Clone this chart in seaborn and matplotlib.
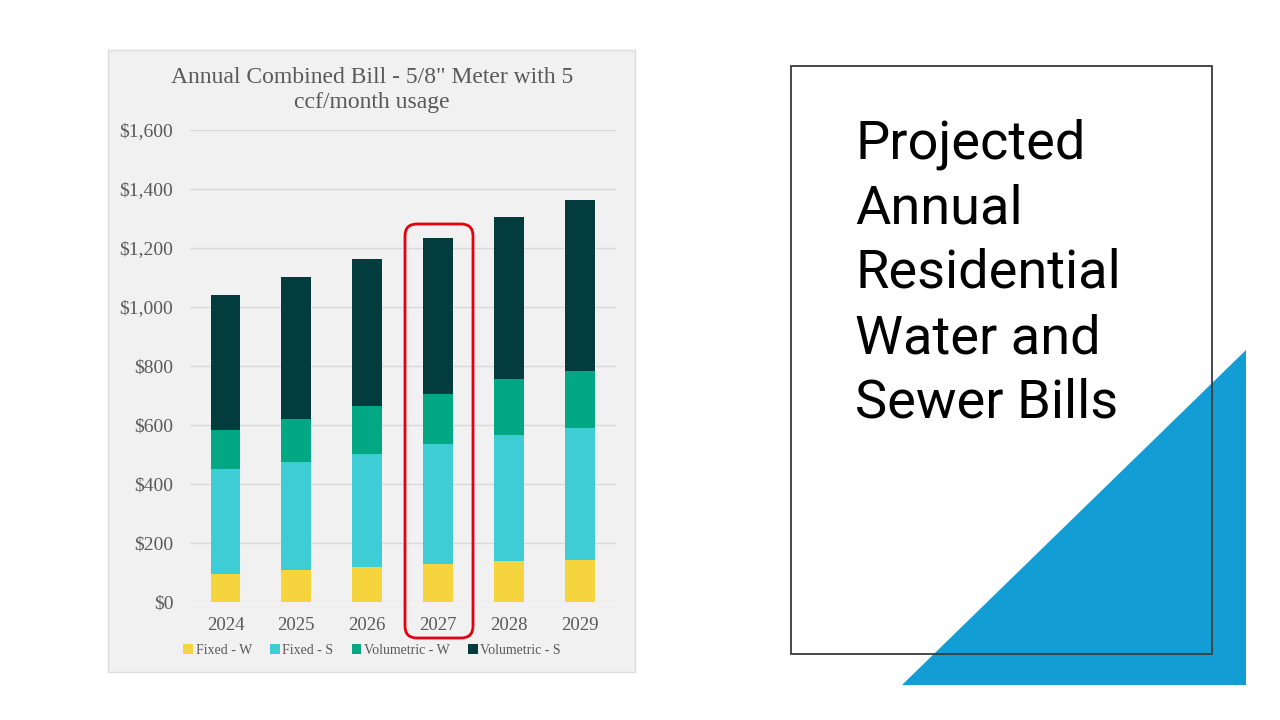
import matplotlib
matplotlib.use("Agg")
import matplotlib.pyplot as plt
from matplotlib.patches import Rectangle, Polygon, FancyBboxPatch, Patch
import pandas as pd
import seaborn as sns

# bill components ($/year)
years = ["2024", "2025", "2026", "2027", "2028", "2029"]
fixed_w = [95, 107, 116, 127, 138, 141]
fixed_s = [354, 368, 385, 407, 428, 447]
vol_w = [133, 144, 161, 171, 189, 194]
vol_s = [459, 482, 501, 529, 551, 579]

series_names = ["Fixed - W", "Fixed - S", "Volumetric - W", "Volumetric - S"]
series_colors = ["#f5d43e", "#3ecdd4", "#02a784", "#023c3d"]
yticks = [0, 200, 400, 600, 800, 1000, 1200, 1400, 1600]

slide_title = ["Projected", "Annual", "Residential", "Water and", "Sewer Bills"]

W, H = 1280, 720
sns.set_theme(style="white")
plt.rcParams["font.family"] = ["Liberation Serif", "DejaVu Serif"]

fig = plt.figure(figsize=(12.8, 7.2), dpi=100)
fig.patch.set_facecolor("white")

# background layer in pixel coordinates
bg = fig.add_axes([0, 0, 1, 1], zorder=0)
bg.set_xlim(0, W)
bg.set_ylim(H, 0)
bg.axis("off")

# chart panel
bg.add_patch(Rectangle((108, 50), 527, 622, facecolor="#f1f1f1",
                       edgecolor="#dcdcdc", lw=1))

# blue triangle, then box outline on top
bg.add_patch(Polygon([(902, 685), (1246, 685), (1246, 350)], closed=True,
                     facecolor="#129dd5", edgecolor="none", zorder=1))
bg.add_patch(Rectangle((791, 66), 421, 588, facecolor="none",
                       edgecolor="#3a3a3a", lw=1.3, zorder=2))

for i, line in enumerate(slide_title):
    bg.text(855, 158 + 65 * i, line, fontsize=39, color="black",
            family=["Roboto", "DejaVu Sans"], ha="left", va="baseline", zorder=3)

# chart title
bg.text(372, 83, 'Annual Combined Bill - 5/8" Meter with 5', ha="center",
        va="baseline", fontsize=17, color="#595959")
bg.text(372, 108, "ccf/month usage", ha="center", va="baseline",
        fontsize=17, color="#595959")

# stacked bars
ax = fig.add_axes([190 / W, 1 - 601.5 / H, 425.5 / W, 471.5 / H], zorder=1)
ax.set_facecolor("none")

df = pd.DataFrame({"year": years, "Fixed - W": fixed_w, "Fixed - S": fixed_s,
                   "Volumetric - W": vol_w, "Volumetric - S": vol_s})
cum = df[series_names].cumsum(axis=1)

for name, color in reversed(list(zip(series_names, series_colors))):
    sns.barplot(x=df["year"], y=cum[name], color=color, saturation=1,
                width=0.42, linewidth=0, ax=ax, zorder=2)

ax.set_ylim(0, 1600)
ax.set_xlim(-0.5, 5.5)
ax.set_yticks(yticks)
ax.set_yticklabels([f"${v:,}" for v in yticks])
ax.grid(axis="y", color="#d9d9d9", lw=1, zorder=0)
ax.set_axisbelow(True)
for s in ax.spines.values():
    s.set_visible(False)
ax.tick_params(axis="y", length=0, pad=12, labelsize=14, labelcolor="#595959")
ax.tick_params(axis="x", length=0, pad=11, labelsize=13.5, labelcolor="#595959")
ax.set_xlabel("")
ax.set_ylabel("")

handles = [Patch(facecolor=c, edgecolor="none", label=n)
           for n, c in zip(series_names, series_colors)]
fig.legend(handles=handles, loc="center", bbox_to_anchor=(372 / W, 1 - 650 / H),
           ncol=4, frameon=False, fontsize=10, labelcolor="#595959",
           handlelength=0.7, handleheight=0.7, handletextpad=0.2,
           columnspacing=1.3)

# highlight around 2027, above the bars
top = fig.add_axes([0, 0, 1, 1], zorder=5)
top.set_xlim(0, W)
top.set_ylim(H, 0)
top.axis("off")
top.add_patch(FancyBboxPatch((405, 224), 68, 414,
                             boxstyle="round,pad=0,rounding_size=12",
                             facecolor="none", edgecolor="#e3000f", lw=2))

fig.savefig("out.png", dpi=100)
